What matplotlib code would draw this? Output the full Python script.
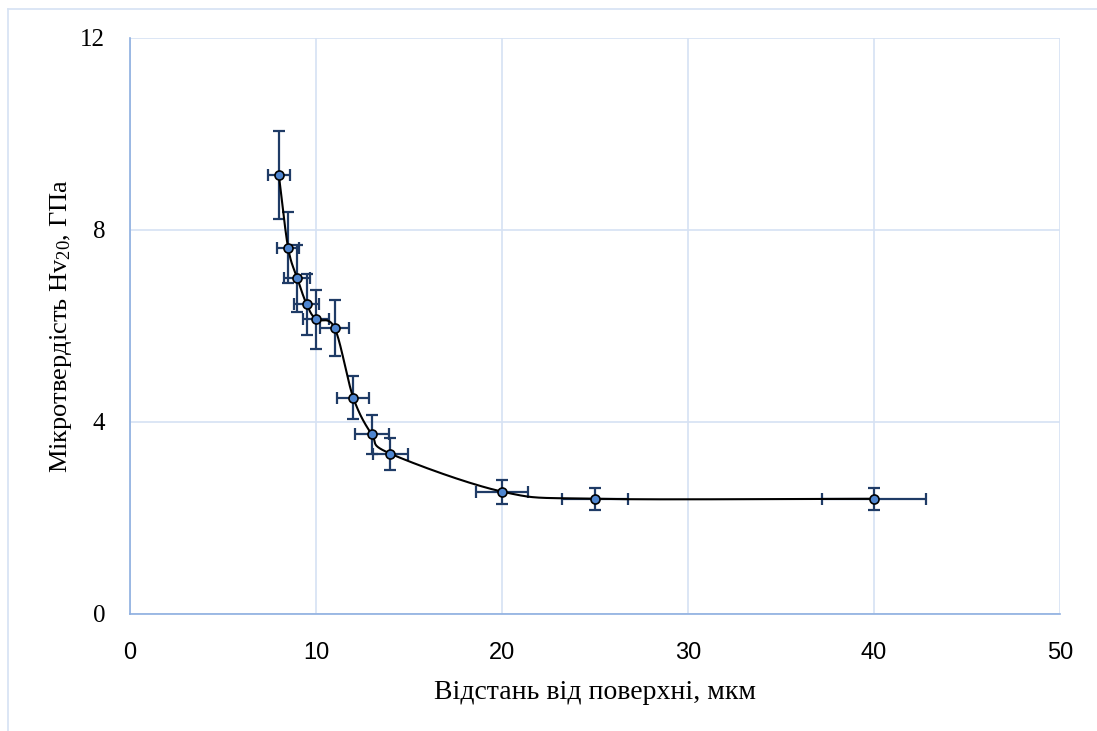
import numpy as np
import matplotlib.pyplot as plt
from matplotlib.lines import Line2D

plt.rcParams['mathtext.fontset'] = 'custom'
plt.rcParams['mathtext.rm'] = 'Liberation Serif'
plt.rcParams['mathtext.it'] = 'Liberation Serif:italic'

# distance from surface, um
dist = [8, 8.5, 9, 9.5, 10, 11, 12, 13, 14, 20, 25, 40]
# microhardness HV20, GPa
hv = [9.15, 7.63, 6.99, 6.45, 6.14, 5.96, 4.51, 3.74, 3.34, 2.55, 2.40, 2.40]
hv_err = [0.92, 0.74, 0.70, 0.63, 0.61, 0.59, 0.45, 0.40, 0.33, 0.25, 0.23, 0.23]
dist_err = [0.6, 0.6, 0.7, 0.67, 0.7, 0.78, 0.85, 0.91, 0.96, 1.4, 1.75, 2.8]

xticks = [0, 10, 20, 30, 40, 50]
yticks = [0, 4, 8, 12]


def smooth(x, y, n=40, t=0.5):
    # Catmull-Rom style smoothing like the spreadsheet "smoothed line"
    x = np.asarray(x, float)
    y = np.asarray(y, float)
    px = np.concatenate([[2*x[0]-x[1]], x, [2*x[-1]-x[-2]]])
    py = np.concatenate([[2*y[0]-y[1]], y, [2*y[-1]-y[-2]]])
    xs, ys = [], []
    s = np.linspace(0, 1, n)
    for i in range(1, len(px)-2):
        p0 = np.array([px[i], py[i]])
        p3 = np.array([px[i+1], py[i+1]])
        m1 = (np.array([px[i+1], py[i+1]]) - np.array([px[i-1], py[i-1]])) * t / 3
        m2 = (np.array([px[i+2], py[i+2]]) - np.array([px[i], py[i]])) * t / 3
        p1 = p0 + m1
        p2 = p3 - m2
        for u in s:
            b = (1-u)**3*p0 + 3*(1-u)**2*u*p1 + 3*(1-u)*u**2*p2 + u**3*p3
            xs.append(b[0]); ys.append(b[1])
    return np.array(xs), np.array(ys)


fig = plt.figure(figsize=(10.97, 7.31), dpi=100)
ax = fig.add_axes([130/1097, 1-614/731, 930/1097, 576/731])

# outer chart frame
fig.add_artist(Line2D([8/1097, 8/1097], [0, 1-9/731], color='#D6E2F3', lw=1.2))
fig.add_artist(Line2D([8/1097, 1], [1-9/731, 1-9/731], color='#D6E2F3', lw=1.2))

sx, sy = smooth(dist, hv)
ax.plot(sx, sy, color='black', lw=1.5, zorder=3)
ax.errorbar(dist, hv, yerr=hv_err, xerr=dist_err, fmt='none', ecolor='#1F3B66',
            elinewidth=1.6, capsize=4, capthick=1.6, zorder=2)
ax.plot(dist, hv, 'o', ms=6.5, mfc='#4F86D0', mec='black', mew=1.2, zorder=4)

ax.set_xlim(0, 50)
ax.set_ylim(0, 12)
ax.set_xticks(xticks)
ax.set_yticks(yticks)
ax.grid(True, color='#D6E2F3', lw=1.2)
ax.set_axisbelow(True)
for side in ['top', 'right']:
    ax.spines[side].set_visible(False)
for side in ['left', 'bottom']:
    ax.spines[side].set_color('#8EAFE0')
    ax.spines[side].set_linewidth(1.2)

ax.tick_params(axis='x', length=0, pad=20, labelsize=17, labelfontfamily='Liberation Sans')
ax.tick_params(axis='y', length=0, pad=18, labelsize=18, labelfontfamily='Liberation Serif')

ax.set_xlabel('Відстань від поверхні, мкм', fontfamily='Liberation Serif', fontsize=20, labelpad=12)
ax.set_ylabel('Мікротвердість Hv$_{\\mathrm{20}}$, ГПа', fontfamily='Liberation Serif', fontsize=19, labelpad=4)

fig.savefig('out.png', dpi=100)
